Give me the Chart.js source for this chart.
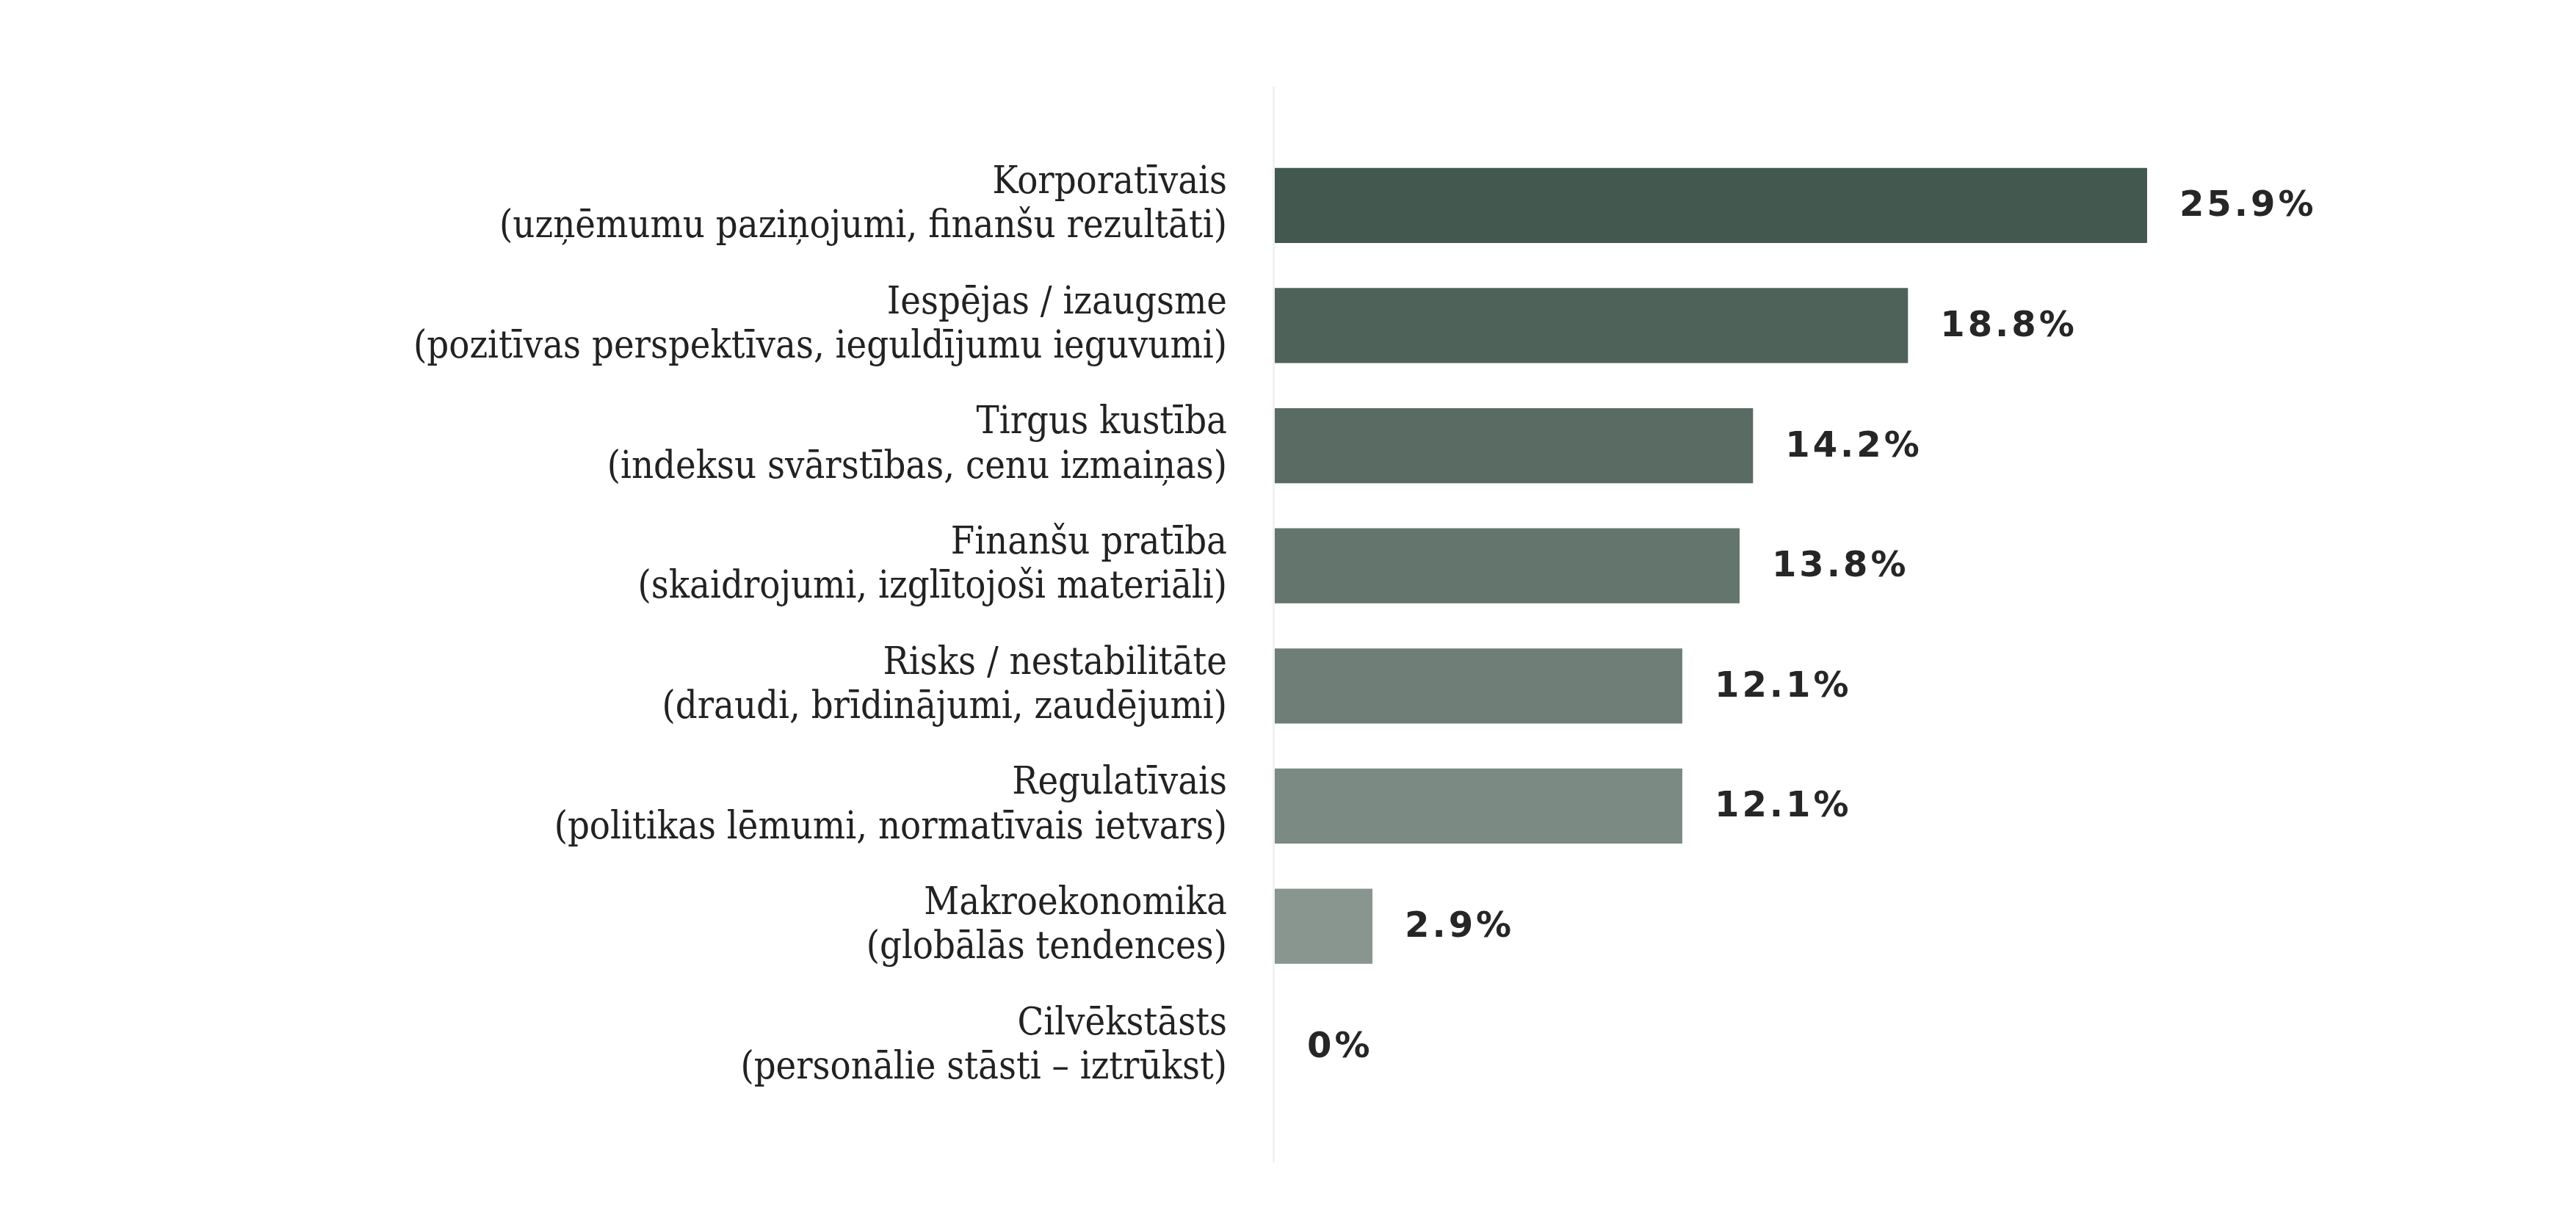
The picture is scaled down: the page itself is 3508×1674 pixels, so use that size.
<!DOCTYPE html>
<html>
<head>
<meta charset="utf-8">
<script src="https://cdn.jsdelivr.net/npm/chart.js@4"></script>
<style>
  html, body { margin: 0; padding: 0; background: #ffffff; }
  #wrap { width: 3508px; height: 1674px; }
</style>
</head>
<body>
<div id="wrap"><canvas id="c" width="3508" height="1674"></canvas></div>
<script>
// kategorijas (divas rindas katrai)
const categories = [
  ["Korporatīvais", "(uzņēmumu paziņojumi, finanšu rezultāti)"],
  ["Iespējas / izaugsme", "(pozitīvas perspektīvas, ieguldījumu ieguvumi)"],
  ["Tirgus kustība", "(indeksu svārstības, cenu izmaiņas)"],
  ["Finanšu pratība", "(skaidrojumi, izglītojoši materiāli)"],
  ["Risks / nestabilitāte", "(draudi, brīdinājumi, zaudējumi)"],
  ["Regulatīvais", "(politikas lēmumi, normatīvais ietvars)"],
  ["Makroekonomika", "(globālās tendences)"],
  ["Cilvēkstāsts", "(personālie stāsti – iztrūkst)"]
];
const shares = [25.9, 18.8, 14.2, 13.8, 12.1, 12.1, 2.9, 0];

const barColors = ["#43584f", "#4f625a", "#596b63", "#64756d", "#6f7f78", "#7b8a83", "#89958f", "#95a09a"];

// vertikālā ass līnija (nedaudz garāka par grafika laukumu)
const axisLine = {
  id: "axisLine",
  beforeDatasetsDraw(chart) {
    const { ctx, chartArea } = chart;
    ctx.save();
    ctx.strokeStyle = "#f1f1f1";
    ctx.lineWidth = 3;
    ctx.beginPath();
    ctx.moveTo(chartArea.left - 1.5, chartArea.top - 80);
    ctx.lineTo(chartArea.left - 1.5, chartArea.bottom + 76);
    ctx.stroke();
    ctx.restore();
  }
};

// procentu uzraksti aiz stabiņiem
const valueLabels = {
  id: "valueLabels",
  afterDatasetsDraw(chart) {
    const { ctx } = chart;
    const meta = chart.getDatasetMeta(0);
    ctx.save();
    ctx.fillStyle = "#262626";
    ctx.font = "bold 48px 'DejaVu Sans', sans-serif";
    ctx.textAlign = "left";
    ctx.textBaseline = "middle";
    if ("letterSpacing" in ctx) ctx.letterSpacing = "4px";
    meta.data.forEach((bar, i) => {
      const v = shares[i];
      ctx.fillText(v + "%", bar.x + 44, bar.y + 2);
    });
    ctx.restore();
  }
};

new Chart(document.getElementById("c").getContext("2d"), {
  type: "bar",
  data: {
    labels: categories,
    datasets: [{
      data: shares,
      backgroundColor: barColors,
      borderWidth: 0,
      categoryPercentage: 1,
      barPercentage: 0.625
    }]
  },
  options: {
    indexAxis: "y",
    responsive: false,
    animation: false,
    devicePixelRatio: 1,
    layout: { padding: { top: 198, bottom: 167, left: 0, right: 396 } },
    plugins: {
      legend: { display: false },
      tooltip: { enabled: false }
    },
    scales: {
      x: {
        display: false,
        min: 0,
        max: 30
      },
      y: {
        grid: { display: false, drawTicks: false },
        border: { display: false },
        afterFit(scale) { scale.width = 1736; },
        ticks: {
          color: "#222222",
          padding: 65,
          font: { family: "'DejaVu Serif Condensed', 'DejaVu Serif', serif", size: 52, lineHeight: 1.16 }
        }
      }
    }
  },
  plugins: [axisLine, valueLabels]
});
</script>
</body>
</html>
